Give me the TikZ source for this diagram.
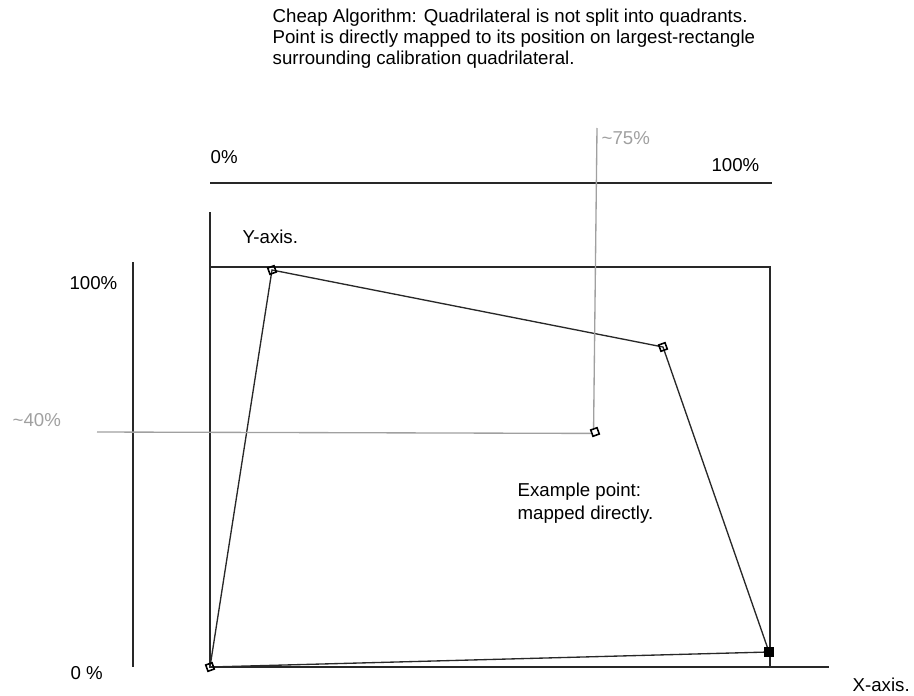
\documentclass[tikz,border=0pt]{standalone}
\usepackage{fontspec}
\setmainfont{Liberation Sans}
\usetikzlibrary{arrows.meta}
\definecolor{guide}{RGB}{160,160,160}
\definecolor{ink}{RGB}{40,40,40}
\begin{document}
\begin{tikzpicture}[x=0.75pt,y=-0.75pt,line width=1pt,draw=ink,
  lbl/.style={font=\fontsize{14}{16}\selectfont,inner sep=0pt,align=left},
  mk/.style={draw=black,line width=1.2pt,rectangle,inner sep=0pt,minimum size=5pt,rotate=20},
  mkfill/.style={draw=black,fill=black,rectangle,inner sep=0pt,minimum size=7pt}]
\useasboundingbox (0,0) rectangle (914,696);
% caption
\node[lbl,anchor=north west](title) at (272,8)
  {Cheap Algorithm: Quadrilateral is not split into quadrants.\\
   Point is directly mapped to its position on largest-rectangle\\
   surrounding calibration quadrilateral.};
% bounding rectangle and axes
\coordinate (tl) at (210,267); \coordinate (tr) at (770,267);
\coordinate (br) at (770,667); \coordinate (bl) at (210,667);
\draw (tl)--(tr)--(br);
\draw (210,212)--(bl)--(829,667)coordinate(xend);
\draw (210,183)coordinate(xa)--(772,183)coordinate(xb);
\draw (133,262)coordinate(ya)--(133,667)coordinate(yb);
\node[lbl,anchor=west] at (210,157) {0\%};
\node[lbl,anchor=east] at (760,165) {100\%};
\node[lbl,anchor=east] at (118,283) {100\%};
\node[lbl,anchor=west] at (70,673) {0 \%};
\node[lbl,anchor=west] at (852,685) {X-axis.};
\node[lbl,anchor=west] at (242,237) {Y-axis.};
% calibration quadrilateral
\coordinate (q1) at (272,270); \coordinate (q2) at (663,347);
\coordinate (q3) at (769,652); \coordinate (q4) at (210,667);
\draw (q1)--(q2)--(q3)--(q4)--cycle;
\node[mk] (m1) at (q1) {}; \node[mk] (m2) at (q2) {};
\node[mkfill] (m3) at (q3) {}; \node[mk] (m4) at (q4) {};
% example point and guides
\node[mk] (pt) at (595,432) {};
\draw[guide] (97,432)--(pt.west);
\draw[guide] (597,128)--(pt.north);
\node[lbl,text=guide,anchor=west] at (601,138) {\textasciitilde75\%};
\node[lbl,text=guide,anchor=west] at (12,420) {\textasciitilde40\%};
\node[lbl,anchor=west] (ex) at (517,492) {Example point:};
\node[lbl,anchor=west] (ex2) at (517,515) {mapped directly.};
\end{tikzpicture}
\end{document}
